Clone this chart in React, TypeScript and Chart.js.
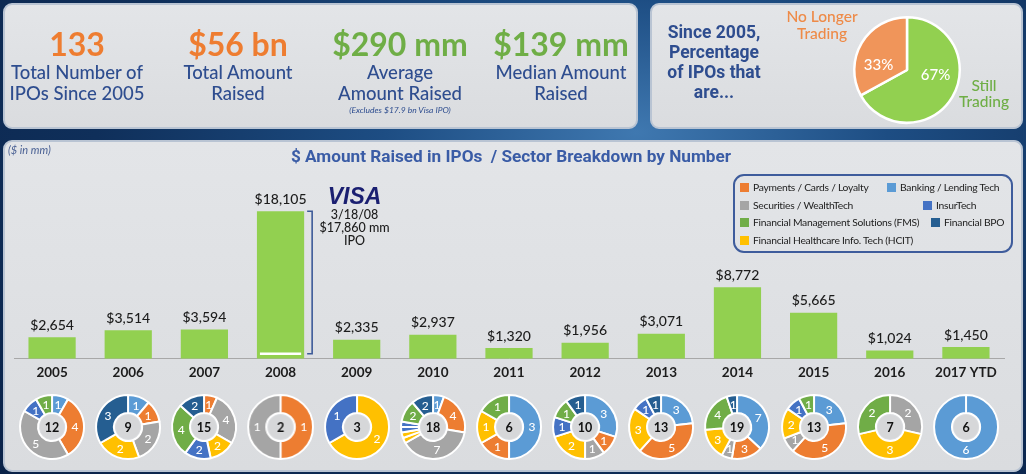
import React, { useEffect, useRef } from "react";
import { Chart, registerables } from "chart.js";

Chart.register(...registerables);
Chart.defaults.font.family = "Lato, 'Open Sans', sans-serif";

// ---------- DATA ----------
const years = ["2005", "2006", "2007", "2008", "2009", "2010", "2011", "2012", "2013", "2014", "2015", "2016", "2017 YTD"];
const amountRaised = [2654, 3514, 3594, 18105, 2335, 2937, 1320, 1956, 3071, 8772, 5665, 1024, 1450];
const visaYear = "2008";
const visaIpoAmount = 17860;
const visaDate = "3/18/08";
const ipoCounts = [12, 9, 15, 2, 3, 18, 6, 10, 13, 19, 13, 7, 6];

const sectorNames = [
  "Payments / Cards / Loyalty",
  "Banking / Lending Tech",
  "Securities / WealthTech",
  "InsurTech",
  "Financial Management Solutions (FMS)",
  "Financial BPO",
  "Financial Healthcare Info. Tech (HCIT)",
];
const sectorColors = ["#ed7d31", "#5b9bd5", "#a5a5a5", "#4472c4", "#70ad47", "#255e91", "#ffc000"];

// per year: sector of each ring segment (clockwise from top) and its IPO count
const segSectors = [
  [1, 0, 2, 3, 4],
  [1, 0, 2, 6, 5],
  [0, 2, 6, 3, 4, 5],
  [0, 2],
  [6, 3],
  [1, 0, 2, 6, 6, 3, 3, 4, 5],
  [1, 0, 6, 4],
  [1, 0, 2, 6, 3, 4, 5],
  [1, 0, 6, 3, 5],
  [1, 0, 2, 6, 4, 5],
  [1, 0, 2, 6, 3, 4],
  [2, 6, 4],
  [1],
];
const segCounts = [
  [1, 4, 5, 1, 1],
  [1, 1, 2, 2, 3],
  [1, 4, 2, 2, 4, 2],
  [1, 1],
  [2, 1],
  [1, 4, 7, 0.5, 0.5, 0.5, 0.5, 2, 2],
  [3, 1, 1, 1],
  [3, 1, 1, 2, 1, 1, 1],
  [3, 5, 3, 1, 1],
  [7, 3, 1, 3, 4, 1],
  [3, 5, 1, 2, 1, 1],
  [2, 3, 2],
  [6],
];

const tradingLabels = ["Still Trading", "No Longer Trading"];
const tradingShares = [67, 33];

const kpiValues = ["133", "$56 bn", "$290 mm", "$139 mm"];
const kpiLabels = [
  ["Total Number of", "IPOs Since 2005"],
  ["Total Amount", "Raised"],
  ["Average", "Amount Raised"],
  ["Median Amount", "Raised"],
];
const kpiNote = "(Excludes $17.9 bn Visa IPO)";

// ---------- STYLE ----------
const ORANGE = "#ee7d31";
const GREEN = "#6fae46";
const NAVY = "#2e4d8f";
const BAR_GREEN = "#92d050";
const PLOT_LEFT = 14;
const PLOT_WIDTH = 990;

const fmt = (v: number) => "$" + v.toLocaleString("en-US");

const barAnnotations = {
  id: "barAnnotations",
  afterDatasetsDraw(chart: any) {
    const ctx = chart.ctx;
    const meta = chart.getDatasetMeta(0);
    const yScale = chart.scales.y;
    ctx.save();
    ctx.font = "500 14px Lato";
    ctx.fillStyle = "#1c1c1c";
    ctx.textAlign = "center";
    ctx.textBaseline = "bottom";
    meta.data.forEach((bar: any, i: number) => {
      ctx.fillText(fmt(amountRaised[i]), bar.x, bar.y - 5);
    });
    const vi = years.indexOf(visaYear);
    const vb = meta.data[vi];
    const half = vb.width / 2;
    const base = yScale.getPixelForValue(0);
    let ySplit = yScale.getPixelForValue(amountRaised[vi] - visaIpoAmount);
    ySplit = Math.min(ySplit, base - 5);
    ctx.strokeStyle = "#ffffff";
    ctx.lineWidth = 2.5;
    ctx.beginPath();
    ctx.moveTo(vb.x - half + 3, ySplit);
    ctx.lineTo(vb.x + half - 3, ySplit);
    ctx.stroke();
    const bx = vb.x + half + 8;
    ctx.strokeStyle = "#3d5a98";
    ctx.lineWidth = 1.6;
    ctx.beginPath();
    ctx.moveTo(bx - 5, vb.y);
    ctx.lineTo(bx, vb.y);
    ctx.lineTo(bx, ySplit);
    ctx.lineTo(bx - 5, ySplit);
    ctx.stroke();
    const tx = vb.x + 74;
    ctx.fillStyle = "#1a1f71";
    ctx.font = "italic 900 23px 'Liberation Sans', Arial, sans-serif";
    ctx.textBaseline = "middle";
    ctx.fillText("VISA", tx, vb.y - 14);
    ctx.fillStyle = "#1c1c1c";
    ctx.font = "500 12.5px Lato";
    ctx.fillText(visaDate, tx, vb.y + 4);
    ctx.fillText(fmt(visaIpoAmount) + " mm", tx, vb.y + 17);
    ctx.fillText("IPO", tx, vb.y + 30);
    ctx.restore();
  },
};

function BarChart() {
  const ref = useRef<HTMLCanvasElement>(null);
  useEffect(() => {
    const chart = new Chart(ref.current as HTMLCanvasElement, {
      type: "bar",
      data: {
        labels: years,
        datasets: [
          {
            label: "$ Amount Raised",
            data: amountRaised,
            backgroundColor: BAR_GREEN,
            borderWidth: 0,
            categoryPercentage: 1,
            barPercentage: 0.62,
          },
        ],
      },
      options: {
        animation: false,
        responsive: true,
        maintainAspectRatio: false,
        events: [],
        layout: { padding: { left: PLOT_LEFT, right: 1026 - PLOT_LEFT - PLOT_WIDTH, top: 20, bottom: 10 } },
        plugins: { legend: { display: false }, tooltip: { enabled: false } },
        scales: {
          x: {
            grid: { display: false, drawTicks: false },
            border: { display: true, color: "#a8a8a8", width: 1 },
            ticks: { color: "#1c1c1c", font: { size: 13.5, weight: "bold" }, padding: 6, maxRotation: 0, autoSkip: false },
          },
          y: { display: false, min: 0, max: 24400 },
        },
      },
      plugins: [barAnnotations],
    });
    return () => chart.destroy();
  }, []);
  return (
    <div style={{ position: "absolute", left: 0, top: 140, width: 1026, height: 257 }}>
      <canvas ref={ref} />
    </div>
  );
}

const donutDecor = (idx: number) => ({
  id: "donutDecor" + idx,
  afterDatasetsDraw(chart: any) {
    const ctx = chart.ctx;
    const meta = chart.getDatasetMeta(0);
    const a0 = meta.data[0];
    const { x, y, innerRadius, outerRadius } = a0;
    ctx.save();
    ctx.beginPath();
    ctx.arc(x, y, innerRadius - 2, 0, Math.PI * 2);
    ctx.fillStyle = "#d6d7d9";
    ctx.fill();
    ctx.fillStyle = "#111";
    ctx.font = "bold 12.5px Lato";
    ctx.textAlign = "center";
    ctx.textBaseline = "middle";
    ctx.fillText(String(ipoCounts[idx]), x, y + 0.5);
    ctx.fillStyle = "#ffffff";
    ctx.font = "500 12px Lato";
    const r = (innerRadius + outerRadius) / 2;
    meta.data.forEach((arc: any, i: number) => {
      const v = segCounts[idx][i];
      if (v < 1) return;
      let mid = (arc.startAngle + arc.endAngle) / 2;
      if (segCounts[idx].length === 1) mid = Math.PI / 2;
      ctx.fillText(String(v), x + Math.cos(mid) * r, y + Math.sin(mid) * r + 0.5);
    });
    ctx.restore();
  },
});

function Donut({ idx }: { idx: number }) {
  const ref = useRef<HTMLCanvasElement>(null);
  useEffect(() => {
    const chart = new Chart(ref.current as HTMLCanvasElement, {
      type: "doughnut",
      data: {
        labels: segSectors[idx].map((s) => sectorNames[s]),
        datasets: [
          {
            data: segCounts[idx],
            backgroundColor: segSectors[idx].map((s) => sectorColors[s]),
            borderColor: "#ffffff",
            borderWidth: 2,
          },
        ],
      },
      options: {
        animation: false,
        responsive: true,
        maintainAspectRatio: false,
        events: [],
        cutout: "44%",
        layout: { padding: 2 },
        plugins: { legend: { display: false }, tooltip: { enabled: false } },
      },
      plugins: [donutDecor(idx)],
    });
    return () => chart.destroy();
  }, [idx]);
  const cell = PLOT_WIDTH / years.length;
  return (
    <div style={{ position: "absolute", left: idx * cell, top: 0, width: cell, height: 70 }}>
      <canvas ref={ref} />
    </div>
  );
}

const pieLabels = {
  id: "pieLabels",
  afterDatasetsDraw(chart: any) {
    const ctx = chart.ctx;
    const meta = chart.getDatasetMeta(0);
    ctx.save();
    ctx.fillStyle = "#ffffff";
    ctx.font = "500 15px Lato";
    ctx.textAlign = "center";
    ctx.textBaseline = "middle";
    meta.data.forEach((arc: any, i: number) => {
      const mid = (arc.startAngle + arc.endAngle) / 2 - 0.35;
      const r = arc.outerRadius * 0.55;
      ctx.fillText(tradingShares[i] + "%", arc.x + Math.cos(mid) * r, arc.y + Math.sin(mid) * r);
    });
    ctx.restore();
  },
};

function PieChart() {
  const ref = useRef<HTMLCanvasElement>(null);
  useEffect(() => {
    const chart = new Chart(ref.current as HTMLCanvasElement, {
      type: "pie",
      data: {
        labels: tradingLabels,
        datasets: [
          {
            data: tradingShares,
            backgroundColor: ["#92d050", "#f0955a"],
            borderColor: "#ffffff",
            borderWidth: 2.5,
          },
        ],
      },
      options: {
        animation: false,
        responsive: true,
        maintainAspectRatio: false,
        events: [],
        layout: { padding: 1 },
        plugins: { legend: { display: false }, tooltip: { enabled: false } },
      },
      plugins: [pieLabels],
    });
    return () => chart.destroy();
  }, []);
  return (
    <div style={{ position: "absolute", left: 852, top: 15, width: 110, height: 110 }}>
      <canvas ref={ref} />
    </div>
  );
}

const panelStyle: React.CSSProperties = {
  position: "absolute",
  background: "linear-gradient(180deg, #e3e5e8 0%, #dadcdf 100%)",
  border: "2px solid #b9c4d3",
  borderRadius: 9,
  boxSizing: "border-box",
};

const legendLayout: { s: number; left: number; top: number }[] = [
  { s: 0, left: 740, top: 181 },
  { s: 1, left: 887, top: 181 },
  { s: 2, left: 740, top: 199 },
  { s: 3, left: 923, top: 199 },
  { s: 4, left: 740, top: 216 },
  { s: 5, left: 931, top: 216 },
  { s: 6, left: 740, top: 234 },
];

const kpiCenters = [77, 238, 400, 561];

export default function App() {
  useEffect(() => {
    document.body.style.margin = "0";
  }, []);
  return (
    <div
      style={{
        position: "fixed",
        left: 0,
        top: 0,
        width: 1026,
        height: 474,
        overflow: "hidden",
        fontFamily: "Lato, 'Open Sans', sans-serif",
        background:
          "radial-gradient(ellipse at 62% 28%, #3f78b0 0%, #1d4d83 28%, #0f2f5a 60%, #0a2248 100%)",
      }}
    >
      {/* KPI panel */}
      <div style={{ ...panelStyle, left: 3, top: 3, width: 635, height: 126 }} />
      {kpiValues.map((v, i) => (
        <div
          key={v}
          style={{
            position: "absolute",
            left: kpiCenters[i] - 80,
            width: 160,
            top: 24,
            textAlign: "center",
            color: i < 2 ? ORANGE : GREEN,
            fontWeight: 700,
            fontSize: 32,
            lineHeight: "40px",
            whiteSpace: "nowrap",
          }}
        >
          {v}
        </div>
      ))}
      {kpiLabels.map((lines, i) => (
        <div
          key={i}
          style={{
            position: "absolute",
            left: kpiCenters[i] - 85,
            width: 170,
            top: 62,
            textAlign: "center",
            color: NAVY,
            fontWeight: 500,
            fontSize: 18.5,
            lineHeight: "21px",
            whiteSpace: "nowrap",
          }}
        >
          {lines[0]}
          <br />
          {lines[1]}
        </div>
      ))}
      <div
        style={{
          position: "absolute",
          left: 400 - 80,
          width: 160,
          top: 105,
          textAlign: "center",
          color: NAVY,
          fontStyle: "italic",
          fontSize: 8.5,
          whiteSpace: "nowrap",
        }}
      >
        {kpiNote}
      </div>

      {/* Pie panel */}
      <div style={{ ...panelStyle, left: 650, top: 3, width: 373, height: 126 }} />
      <div
        style={{
          position: "absolute",
          left: 653,
          width: 122,
          top: 22,
          textAlign: "center",
          color: NAVY,
          fontFamily: "Roboto, 'DejaVu Sans', sans-serif",
          fontWeight: 700,
          fontSize: 17.5,
          lineHeight: "20px",
        }}
      >
        Since 2005,
        <br />
        Percentage
        <br />
        of IPOs that
        <br />
        are...
      </div>
      <div
        style={{
          position: "absolute",
          left: 772,
          width: 100,
          top: 8,
          textAlign: "center",
          color: "#ee8a47",
          fontWeight: 500,
          fontSize: 15.5,
          lineHeight: "16.5px",
        }}
      >
        No Longer
        <br />
        Trading
      </div>
      <div
        style={{
          position: "absolute",
          left: 944,
          width: 80,
          top: 77,
          textAlign: "center",
          color: GREEN,
          fontWeight: 500,
          fontSize: 15.5,
          lineHeight: "16px",
        }}
      >
        Still
        <br />
        Trading
      </div>
      <PieChart />

      {/* Main panel */}
      <div style={{ ...panelStyle, left: 3, top: 140, width: 1020, height: 332 }} />
      <div
        style={{
          position: "absolute",
          left: 8,
          top: 143,
          color: "#4a6194",
          fontStyle: "italic",
          fontSize: 11,
        }}
      >
        ($ in mm)
      </div>
      <div
        style={{
          position: "absolute",
          left: 0,
          width: 1026,
          top: 146,
          textAlign: "center",
          color: "#3a5ca6",
          fontFamily: "Roboto, 'DejaVu Sans', sans-serif",
          fontWeight: 700,
          fontSize: 17.2,
        }}
      >
        <span style={{ position: "relative", left: -2 }}>
          $ Amount Raised in IPOs&nbsp; / Sector Breakdown by Number
        </span>
      </div>

      {/* legend */}
      <div
        style={{
          position: "absolute",
          left: 733,
          top: 174,
          width: 280,
          height: 79,
          border: "2px solid #3e5c9c",
          borderRadius: 11,
          boxSizing: "border-box",
        }}
      />
      {legendLayout.map((it) => (
        <div
          key={it.s}
          style={{
            position: "absolute",
            left: it.left,
            top: it.top,
            height: 12,
            display: "flex",
            alignItems: "center",
            fontSize: 10.3,
            letterSpacing: -0.25,
            color: "#222",
            whiteSpace: "nowrap",
          }}
        >
          <span
            style={{
              display: "inline-block",
              width: 9,
              height: 9,
              background: sectorColors[it.s],
              marginRight: 4,
            }}
          />
          {sectorNames[it.s]}
        </div>
      ))}

      <BarChart />

      <div
        style={{
          position: "absolute",
          left: PLOT_LEFT,
          width: PLOT_WIDTH,
          top: 392,
          height: 70,
        }}
      >
        {years.map((y, i) => (
          <Donut key={y} idx={i} />
        ))}
      </div>
    </div>
  );
}
